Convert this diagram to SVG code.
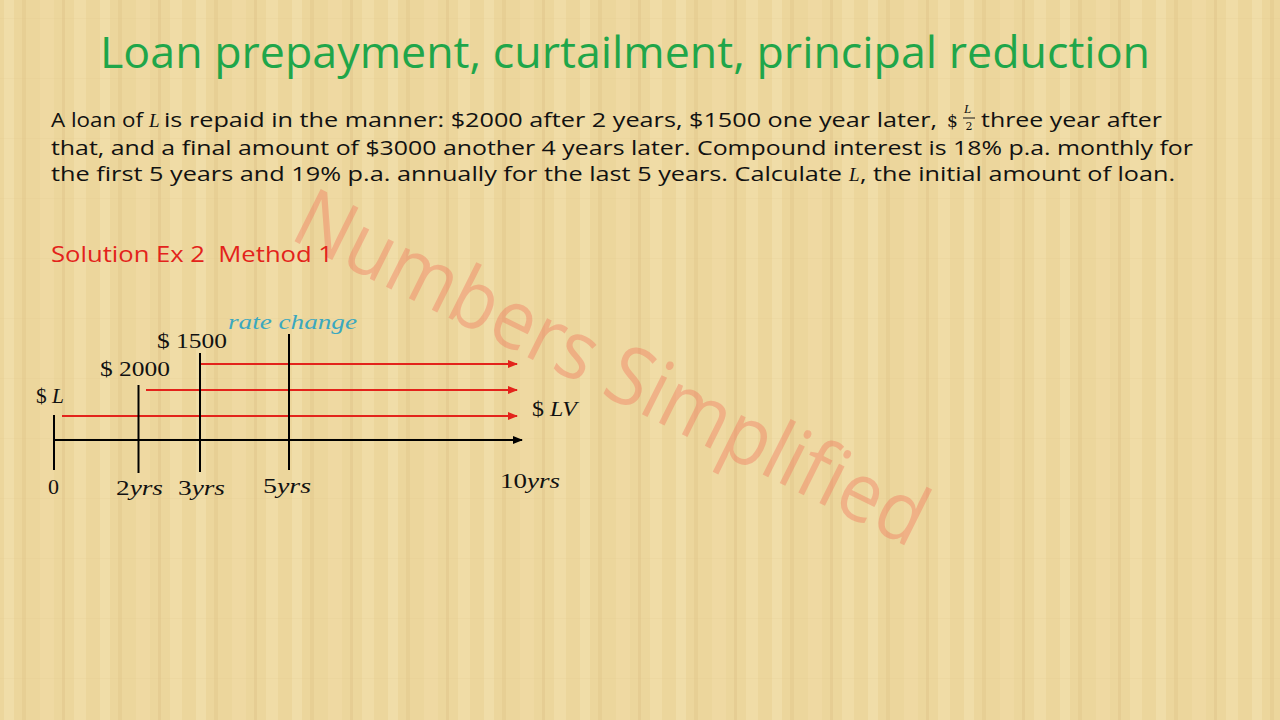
<svg xmlns="http://www.w3.org/2000/svg" width="1280" height="720" viewBox="0 0 1280 720">
  <defs>
    <pattern id="paper" x="0" y="0" width="96" height="60" patternUnits="userSpaceOnUse">
      <rect width="96" height="60" fill="#ECD69C"/>
      <rect x="4" width="10" height="60" fill="#F4E3B3" opacity="0.5"/>
      <rect x="22" width="4" height="60" fill="#DCC082" opacity="0.3"/>
      <rect x="40" width="14" height="60" fill="#F2DFAA" opacity="0.4"/>
      <rect x="62" width="3" height="60" fill="#D9BC7E" opacity="0.3"/>
      <rect x="74" width="12" height="60" fill="#F5E6B8" opacity="0.35"/>
      <rect y="18" width="96" height="1" fill="#DCC285" opacity="0.15"/>
    </pattern>
    <marker id="ahRed" markerWidth="10" markerHeight="8" refX="9" refY="4" orient="auto" markerUnits="userSpaceOnUse">
      <path d="M0,0 L10,4 L0,8 z" fill="#E3231B"/>
    </marker>
    <marker id="ahBlack" markerWidth="10" markerHeight="8" refX="9" refY="4" orient="auto" markerUnits="userSpaceOnUse">
      <path d="M0,0 L10,4 L0,8 z" fill="#000"/>
    </marker>
    <style>
      .title { font-family: "Open Sans", "Lato", sans-serif; font-size: 44px; fill: #1FA64A; }
      .body { font-family: "Open Sans", "Lato", sans-serif; font-size: 20px; fill: #111; }
      .math { font-family: "DejaVu Serif", "Liberation Serif", serif; fill: #111; }
      .mi { font-family: "Liberation Serif", "DejaVu Serif", serif; font-style: italic; fill: #111; }
      .lbl { font-family: "Liberation Serif", "DejaVu Serif", serif; font-size: 22px; fill: #111; }
      .red { font-family: "Open Sans", "Lato", sans-serif; font-size: 21px; fill: #E3231B; white-space: pre; }
      .teal { font-family: "Liberation Serif", serif; font-style: italic; font-size: 21px; fill: #3BA8BF; }
      .wm { font-family: "Open Sans", "Lato", sans-serif; font-size: 82px; fill: #F26B55; opacity: 0.36; }
      .tick { stroke: #000; stroke-width: 2; }
      .flow { stroke: #E3231B; stroke-width: 2.2; marker-end: url(#ahRed); }
    </style>
  </defs>

  <rect width="1280" height="720" fill="url(#paper)"/>

  <!-- watermark -->
  <text class="wm" x="288" y="238" transform="rotate(26.5 288 238)" textLength="695" lengthAdjust="spacingAndGlyphs">Numbers Simplified</text>

  <!-- title -->
  <text class="title" x="100" y="68" textLength="1050" lengthAdjust="spacingAndGlyphs">Loan prepayment, curtailment, principal reduction</text>

  <!-- problem statement -->
  <g id="problem">
    <text class="body" x="51" y="127" textLength="92" lengthAdjust="spacingAndGlyphs">A loan of</text>
    <text class="mi" x="149" y="127" font-size="19">L</text>
    <text class="body" x="164" y="127" textLength="773" lengthAdjust="spacingAndGlyphs">is repaid in the manner: $2000 after 2 years, $1500 one year later,</text>
    <text class="math" x="947" y="127" font-size="17">$</text>
    <text class="mi" x="964" y="113" font-size="13">L</text>
    <line x1="963" y1="118" x2="975" y2="118" stroke="#111" stroke-width="1"/>
    <text class="math" x="965.5" y="130" font-size="11">2</text>
    <text class="body" x="981" y="127" textLength="181" lengthAdjust="spacingAndGlyphs">three year after</text>

    <text class="body" x="51" y="155" textLength="1142" lengthAdjust="spacingAndGlyphs">that, and a final amount of $3000 another 4 years later. Compound interest is 18% p.a. monthly for</text>

    <text class="body" x="51" y="181" textLength="791" lengthAdjust="spacingAndGlyphs">the first 5 years and 19% p.a. annually for the last 5 years. Calculate</text>
    <text class="mi" x="849" y="181" font-size="19">L</text>
    <text class="body" x="860" y="181" textLength="315" lengthAdjust="spacingAndGlyphs">, the initial amount of loan.</text>
  </g>

  <text class="red" x="51" y="262" textLength="282" lengthAdjust="spacingAndGlyphs">Solution Ex 2  Method 1</text>

  <!-- timeline -->
  <g id="connectors">
    <line x1="53" y1="440" x2="522" y2="440" stroke="#000" stroke-width="2" marker-end="url(#ahBlack)"/>
    <line class="flow" x1="201" y1="364" x2="517" y2="364"/>
    <line class="flow" x1="146" y1="390" x2="517" y2="390"/>
    <line class="flow" x1="62" y1="416" x2="517" y2="416"/>
  </g>

  <g id="t0">
    <line class="tick" x1="54" y1="415" x2="54" y2="470"/>
    <text class="lbl" x="36" y="403" textLength="28" lengthAdjust="spacingAndGlyphs">$ <tspan font-style="italic">L</tspan></text>
    <text class="lbl" x="48" y="494">0</text>
  </g>
  <g id="t2">
    <line class="tick" x1="138.5" y1="385" x2="138.5" y2="473"/>
    <text class="lbl" x="100" y="376" textLength="70" lengthAdjust="spacingAndGlyphs">$ 2000</text>
    <text class="lbl" x="116" y="495" textLength="47" lengthAdjust="spacingAndGlyphs">2<tspan font-style="italic">yrs</tspan></text>
  </g>
  <g id="t3">
    <line class="tick" x1="200" y1="353" x2="200" y2="472"/>
    <text class="lbl" x="157" y="348" textLength="70" lengthAdjust="spacingAndGlyphs">$ 1500</text>
    <text class="lbl" x="178" y="495" textLength="47" lengthAdjust="spacingAndGlyphs">3<tspan font-style="italic">yrs</tspan></text>
  </g>
  <g id="t5">
    <line class="tick" x1="289" y1="334" x2="289" y2="470"/>
    <text class="teal" x="228" y="329" textLength="129" lengthAdjust="spacingAndGlyphs">rate change</text>
    <text class="lbl" x="263" y="493" textLength="48" lengthAdjust="spacingAndGlyphs">5<tspan font-style="italic">yrs</tspan></text>
  </g>
  <g id="t10">
    <text class="lbl" x="532" y="416" textLength="45" lengthAdjust="spacingAndGlyphs">$ <tspan font-style="italic">LV</tspan></text>
    <text class="lbl" x="500" y="488" textLength="60" lengthAdjust="spacingAndGlyphs">10<tspan font-style="italic">yrs</tspan></text>
  </g>
</svg>
